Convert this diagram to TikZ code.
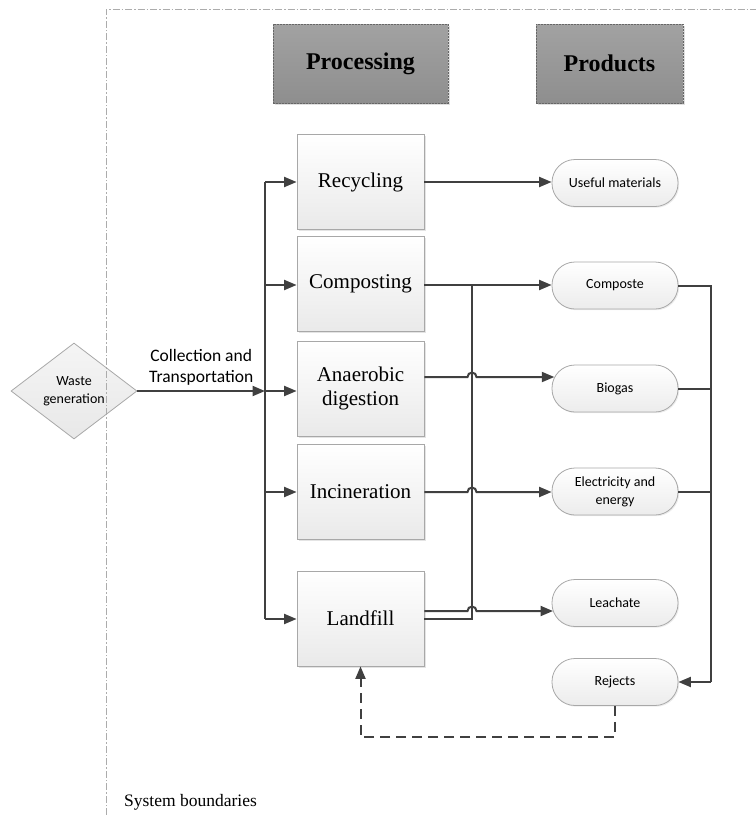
\documentclass[tikz,border=0pt]{standalone}
\usepackage{fontspec}
\setmainfont{Liberation Serif}
\newfontfamily\carlito{Carlito}
\usetikzlibrary{arrows.meta,shapes.geometric,shadows,calc}
\definecolor{linec}{HTML}{404040}
\definecolor{bordc}{HTML}{A8A8A8}
\definecolor{hdrc}{HTML}{A2A2A2}
\definecolor{hdrd}{HTML}{8E8E8E}
\begin{document}
\begin{tikzpicture}[x=1pt,y=-1pt,
  line/.style={draw=linec, line width=2pt},
  conn/.style={line, -{Triangle[length=12.5pt,width=10pt]}},
  pbox/.style={draw=bordc, line width=0.8pt, top color=white, bottom color=gray!17,
    minimum width=127pt, minimum height=95pt, inner sep=0pt, align=center,
    font=\fontsize{21}{24}\selectfont,
    drop shadow={shadow xshift=1.5pt, shadow yshift=-1.5pt, fill=gray!35, opacity=0.6}},
  prod/.style={draw=bordc, line width=0.8pt, top color=white, bottom color=gray!15,
    rounded corners=23pt, minimum width=126pt, minimum height=47pt, inner sep=0pt,
    align=center, font=\carlito\fontsize{14}{18}\selectfont,
    drop shadow={shadow xshift=1.2pt, shadow yshift=-1.2pt, fill=gray!30, opacity=0.5}},
  hdr/.style={draw=gray!80!black, line width=0.7pt, dash pattern=on 2pt off 1pt,
    top color=hdrc, bottom color=hdrd, minimum height=79pt, inner sep=0pt,
    font=\bfseries\fontsize{24}{28}\selectfont,
    drop shadow={shadow xshift=1.5pt, shadow yshift=-1.5pt, fill=gray!40, opacity=0.6}},
  diam/.style={diamond, aspect=1.31, draw=bordc, line width=0.8pt,
    top color=gray!8, bottom color=gray!18,
    minimum width=126pt, minimum height=96pt, inner sep=0pt, align=center,
    font=\carlito\fontsize{14}{18}\selectfont},
  lbl/.style={font=\carlito\fontsize{17.5}{21}\selectfont, align=center},
  bound/.style={draw=gray!65, line width=0.8pt, dash pattern=on 7pt off 2pt on 1.5pt off 2pt},
  sysl/.style={font=\fontsize{17.5}{20}\selectfont, inner sep=0pt}
]
\useasboundingbox (0,0) rectangle (756,815);

% headers
\node[hdr, minimum width=175pt] (hproc) at (360.5,63.5) {Processing};
\node[hdr, minimum width=147pt] (hprod) at (609.5,63.5) {Products};

% processing boxes
\node[pbox] (rec)  at (360.5,182)   {Recycling};
\node[pbox] (comp) at (360.5,284)   {Composting};
\node[pbox] (anad) at (360.5,388.5) {Anaerobic\\digestion};
\node[pbox] (inc)  at (360.5,492)   {Incineration};
\node[pbox] (land) at (360.5,618.5) {Landfill};

% products
\node[prod] (useful) at (615,183)   {Useful materials};
\node[prod] (compo)  at (615,285.5) {Composte};
\node[prod] (bio)    at (615,388.5) {Biogas};
\node[prod] (elec)   at (615,491.5) {Electricity and\\energy};
\node[prod] (leach)  at (615,603)   {Leachate};
\node[prod] (rej)    at (615,682)   {Rejects};

% waste generation
\node[diam] (waste) at (74,391) {Waste\\generation};

% bus
\coordinate (b1) at (265,182);
\coordinate (b2) at (265,285);
\coordinate (b3) at (265,391);
\coordinate (b4) at (265,492);
\coordinate (b5) at (265,619);
\draw[line] (b1) -- (b5);
\draw[conn] (waste.east) -- (b3)
  node[lbl, midway, above=1pt] (coll) {Collection and\\Transportation};
\draw[conn] (b1) -- (b1 -| rec.west);
\draw[conn] (b2) -- (b2 -| comp.west);
\draw[conn] (b3) -- (b3 -| anad.west);
\draw[conn] (b4) -- (b4 -| inc.west);
\draw[conn] (b5) -- (b5 -| land.west);

% outputs
\coordinate (j1) at (472,285);
\coordinate (j2) at (472,619);
\coordinate (h1) at (472,377);
\coordinate (h2) at (472,492);
\coordinate (h3) at (472,611);
\draw[conn] (rec.east) -- (rec.east -| useful.west);
\draw[conn] (comp.east |- j1) -- (compo.west |- j1);
\draw[line] (land.east |- j2) -- (j2) -- (j1);
\draw[conn] (anad.east |- h1) -- ([xshift=-4.5pt]h1) arc[start angle=180, end angle=0, radius=4.5pt]
  -- ($(bio.west |- h1)+(2.7,0)$);
\draw[conn] (inc.east |- h2) -- ([xshift=-4.5pt]h2) arc[start angle=180, end angle=0, radius=4.5pt]
  -- (elec.west |- h2);
\draw[conn] (land.east |- h3) -- ([xshift=-4.5pt]h3) arc[start angle=180, end angle=0, radius=4.5pt]
  -- ($(leach.west |- h3)+(1.4,0)$);

% collector to rejects
\coordinate (c1) at (711,285.5);
\coordinate (c2) at (711,682);
\draw[line] (compo.east) -- (c1) -- (c2);
\draw[line] (bio.east) -- (bio.east -| c1);
\draw[line] (elec.east) -- (elec.east -| c1);
\draw[conn] (c2) -- (rej.east);

% rejects back to landfill
\coordinate (d1) at (615,737);
\coordinate (d2) at (360.5,737);
\draw[conn, dash pattern=on 10pt off 6pt] (rej.south) -- (d1) -- (d2) -- (land.south);

% system boundary
\draw[bound] (106,815) -- (106,9) -- (757,9);
\node[sysl, anchor=west] (sys) at (124,802) {System boundaries};
\end{tikzpicture}
\end{document}
